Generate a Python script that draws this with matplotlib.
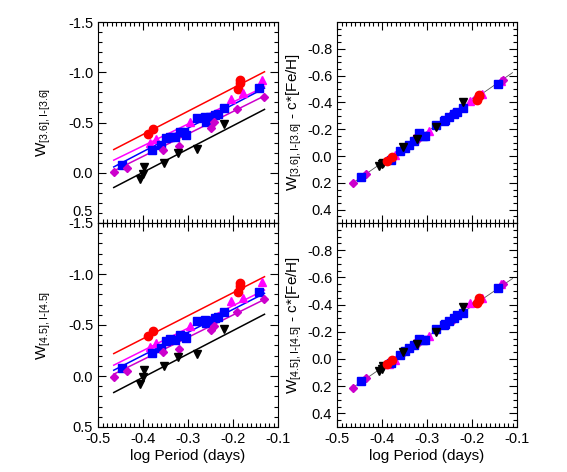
import numpy as np
import matplotlib.pyplot as plt
from matplotlib.ticker import MultipleLocator
from matplotlib.transforms import ScaledTranslation

plt.rcParams['font.family'] = ['Liberation Sans', 'DejaVu Sans']
plt.rcParams['font.size'] = 10
plt.rcParams['mathtext.default'] = 'regular'

# log P of each star, per group
x_red = [-0.390, -0.377, -0.190, -0.184, -0.184]
x_mag = [-0.384, -0.371, -0.328, -0.296, -0.204, -0.177, -0.136]
x_blue = [-0.446, -0.379, -0.360, -0.350, -0.340, -0.329, -0.318, -0.310, -0.304,
          -0.279, -0.262, -0.260, -0.251, -0.240, -0.233, -0.221, -0.142]
x_pur = [-0.464, -0.435, -0.355, -0.320, -0.249, -0.242, -0.192, -0.131]
x_blk = [-0.407, -0.401, -0.398, -0.353, -0.323, -0.281, -0.220]

# W[3.6] (top left)
w36_red = [-0.383, -0.435, -0.833, -0.920, -0.896]
w36_mag = [-0.293, -0.339, -0.370, -0.508, -0.737, -0.790, -0.923]
w36_blue = [-0.077, -0.226, -0.273, -0.343, -0.359, -0.359, -0.402, -0.409, -0.376,
            -0.548, -0.558, -0.508, -0.552, -0.575, -0.585, -0.641, -0.840]
w36_pur = [-0.010, -0.050, -0.226, -0.269, -0.448, -0.502, -0.634, -0.757]
w36_blk = [0.065, 0.012, -0.060, -0.100, -0.193, -0.233, -0.482]

# W[4.5] (bottom left)
w45_red = [-0.392, -0.438, -0.821, -0.909, -0.882]
w45_mag = [-0.287, -0.326, -0.370, -0.490, -0.735, -0.768, -0.925]
w45_blue = [-0.081, -0.222, -0.278, -0.343, -0.360, -0.353, -0.399, -0.392, -0.376,
            -0.539, -0.549, -0.523, -0.542, -0.566, -0.582, -0.627, -0.821]
w45_pur = [0.010, -0.052, -0.235, -0.265, -0.451, -0.493, -0.630, -0.755]
w45_blk = [0.078, 0.007, -0.059, -0.098, -0.183, -0.216, -0.464]

# metallicity-corrected W (right panels)
c36_red = [0.040, 0.005, -0.420, -0.455, -0.445]
c36_mag = [0.020, -0.010, -0.136, -0.190, -0.410, -0.460, -0.560]
c36_blue = [0.160, 0.030, -0.040, -0.060, -0.080, -0.110, -0.170, -0.150, -0.150,
            -0.230, -0.260, -0.270, -0.290, -0.310, -0.330, -0.360, -0.540]
c36_pur = [0.205, 0.135, -0.050, -0.130, -0.300, -0.320, -0.430, -0.570]
c36_blk = [0.075, 0.060, 0.050, -0.065, -0.130, -0.220, -0.400]

c45_red = [0.040, 0.010, -0.410, -0.445, -0.435]
c45_mag = [0.040, 0.010, -0.120, -0.170, -0.410, -0.450, -0.550]
c45_blue = [0.160, 0.030, -0.030, -0.060, -0.080, -0.100, -0.150, -0.140, -0.140,
            -0.220, -0.250, -0.260, -0.280, -0.300, -0.320, -0.340, -0.520]
c45_pur = [0.215, 0.140, -0.040, -0.120, -0.280, -0.290, -0.410, -0.550]
c45_blk = [0.090, 0.070, 0.050, -0.050, -0.110, -0.200, -0.385]

# fits: (intercept, slope) per group, order red, magenta, blue, purple, black
fit36 = [(-1.305, -2.31), (-1.139, -2.18), (-1.146, -2.34), (-1.055, -2.23), (-0.932, -2.32)]
fit45 = [(-1.266, -2.25), (-1.129, -2.20), (-1.103, -2.25), (-1.036, -2.19), (-0.903, -2.29)]
fit_c36 = (-0.877, -2.32)
fit_c45 = (-0.840, -2.26)

colors = ['red', '#ff00ff', 'blue', '#cc00cc', 'black']
markers = ['o', '^', 's', 'D', 'v']
sizes = [6, 6, 6, 4.5, 6]
xs = [x_red, x_mag, x_blue, x_pur, x_blk]

fig = plt.figure(figsize=(5.67, 4.72), dpi=100)
W, H = 567, 472
ax_tl = fig.add_axes([98 / W, 1 - 223 / H, 180 / W, 201 / H])
ax_bl = fig.add_axes([98 / W, 1 - 427 / H, 180 / W, 204 / H])
ax_tr = fig.add_axes([337 / W, 1 - 223 / H, 180 / W, 201 / H])
ax_br = fig.add_axes([337 / W, 1 - 427 / H, 180 / W, 204 / H])

xfit = np.array([-0.465, -0.13])


def style(ax, left):
    ax.set_xlim(-0.5, -0.1)
    ax.xaxis.set_major_locator(MultipleLocator(0.1))
    ax.xaxis.set_minor_locator(MultipleLocator(0.01))
    if left:
        ax.set_ylim(0.5, -1.5)
        ax.set_yticks([-1.5, -1.0, -0.5, 0.0, 0.5])
        ax.yaxis.set_minor_locator(MultipleLocator(0.1))
    else:
        ax.set_ylim(0.5, -1.0)
        ax.set_yticks([-0.8, -0.6, -0.4, -0.2, 0.0, 0.2, 0.4])
        ax.yaxis.set_minor_locator(MultipleLocator(0.05))
    ax.yaxis.set_major_formatter(plt.FormatStrFormatter('%.1f'))
    ax.xaxis.set_major_formatter(plt.FormatStrFormatter('%.1f'))
    ax.tick_params(which='both', direction='in', top=True, right=True, labelsize=10.5)
    ax.tick_params(which='major', length=6, width=0.8)
    ax.tick_params(which='minor', length=3, width=0.8)


for ax, ys, fits in [(ax_tl, [w36_red, w36_mag, w36_blue, w36_pur, w36_blk], fit36),
                     (ax_bl, [w45_red, w45_mag, w45_blue, w45_pur, w45_blk], fit45)]:
    for (a, b), c in zip(fits, colors):
        ax.plot(xfit, a + b * xfit, color=c, lw=1.1)
    for x, y, c, m, s in zip(xs, ys, colors, markers, sizes):
        ax.plot(x, y, ls='none', marker=m, color=c, ms=s, mec=c)
    style(ax, True)

for ax, ys, (a, b) in [(ax_tr, [c36_red, c36_mag, c36_blue, c36_pur, c36_blk], fit_c36),
                       (ax_br, [c45_red, c45_mag, c45_blue, c45_pur, c45_blk], fit_c45)]:
    xl = np.array([-0.47, -0.11])
    ax.plot(xl, a + b * xl, color='#555555', lw=0.6)
    order = [1, 3, 2, 4, 0]
    for i in order:
        ax.plot(xs[i], ys[i], ls='none', marker=markers[i], color=colors[i],
                ms=sizes[i], mec=colors[i])
    style(ax, False)

ax_tl.tick_params(labelbottom=False)
ax_tr.tick_params(labelbottom=False)

# lift the "0.5" of the upper panel above the "-1.5" of the lower one, as in the original
lab = ax_tl.yaxis.get_major_ticks()[-1].label1
lab.set_transform(lab.get_transform() + ScaledTranslation(0, 9 / 72, fig.dpi_scale_trans))

ax_tl.set_ylabel(r'W$_{[3.6],I\text{-}[3.6]}$', fontsize=11, labelpad=11)
ax_bl.set_ylabel(r'W$_{[4.5],I\text{-}[4.5]}$', fontsize=11, labelpad=11)
ax_tr.set_ylabel(r'W$_{[3.6],I\text{-}[3.6]}$ - c*[Fe/H]', fontsize=11, labelpad=2)
ax_br.set_ylabel(r'W$_{[4.5],I\text{-}[4.5]}$ - c*[Fe/H]', fontsize=11, labelpad=2)
ax_bl.set_xlabel('log Period (days)', fontsize=11, labelpad=2)
ax_br.set_xlabel('log Period (days)', fontsize=11, labelpad=2)

fig.savefig('out.png', dpi=100)
